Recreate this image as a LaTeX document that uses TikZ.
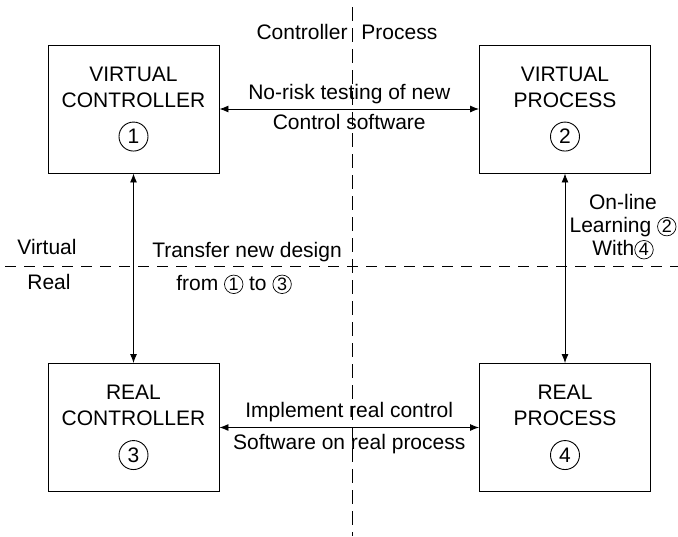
\documentclass[tikz,border=0pt]{standalone}
\usepackage{fontspec}
\setmainfont{Liberation Sans}
\usetikzlibrary{arrows.meta,positioning}
\newcommand{\cnum}[1]{\tikz[baseline=(cn.base)]\node[draw, circle, inner sep=0pt,
  minimum size=18.5pt, line width=0.7pt, font=\fontsize{18}{18}\selectfont] (cn) {#1};}

\begin{document}
\begin{tikzpicture}[
      x=1pt, y=-1pt,
      font=\fontsize{21}{26}\selectfont,
      line width=0.9pt,
      box/.style={draw, minimum width=171pt, minimum height=128pt, inner sep=0pt},
      title/.style={align=center, inner sep=0pt},
      num/.style={draw, circle, minimum size=29pt, inner sep=0pt},
      arrow/.style={{Latex[length=9pt,width=7pt]}-{Latex[length=9pt,width=7pt]}},
      lab/.style={align=center, inner sep=0pt},
      divider/.style={line width=0.8pt, dash pattern=on 11pt off 8pt}
    ]
    \useasboundingbox (0,0) rectangle (678,536);
    % boundaries
    \coordinate (vtop) at (352,7);
    \coordinate (vbot) at (352,536);
    \coordinate (hleft) at (5,266);
    \coordinate (hright) at (678,266);
    \draw[divider, dash pattern=on 14pt off 7pt] (vtop) -- (vbot);
    \draw[divider] (hleft) -- (hright);
    % blocks
    \node[box] (vc) at (133.5,109) {};
    \node[box] (vp) at (565,109) {};
    \node[box] (rc) at (133.5,427.5) {};
    \node[box] (rp) at (565,427.5) {};
    \node[title] (vctxt) at ([yshift=-42.5pt]vc.north) {VIRTUAL\\CONTROLLER};
    \node[title] (vptxt) at ([yshift=-42.5pt]vp.north) {VIRTUAL\\PROCESS};
    \node[title] (rctxt) at ([yshift=-42.5pt]rc.north) {REAL\\CONTROLLER};
    \node[title] (rptxt) at ([yshift=-42.5pt]rp.north) {REAL\\PROCESS};
    \node[num] (vcnum) at ([yshift=-92pt]vc.north) {1};
    \node[num] (vpnum) at ([yshift=-92pt]vp.north) {2};
    \node[num] (rcnum) at ([yshift=-92pt]rc.north) {3};
    \node[num] (rpnum) at ([yshift=-92pt]rp.north) {4};
    % links
    \draw[arrow] (vc) -- (vp)
      node[lab, midway, above=5pt] (test) {No-risk testing of new}
      node[lab, midway, below=5pt] (soft) {Control software};
    \draw[arrow] (rc) -- (rp)
      node[lab, midway, above=5pt] (impl) {Implement real control}
      node[lab, midway, below=6pt] (real) {Software on real process};
    \draw[arrow] (vc) -- (rc);
    \draw[arrow] (vp) -- (rp);
    % side texts
    \node[lab, anchor=base east] (ctrl) at (348,39.5) {Controller};
    \node[lab, anchor=base west] (proc) at (361,39.5) {Process};
    \node[lab, anchor=base] (virt) at (47,254.5) {Virtual};
    \node[lab, anchor=base] (rl) at (49,289.5) {Real};
    \node[lab, anchor=base] (trans) at (247,257.5) {Transfer new design};
    \node[lab, anchor=base] (from) at (234,290.5) {from \cnum{1} to \cnum{3}};
    \node[lab, font=\fontsize{21}{23}\selectfont] (learn) at (623,227)
      {On-line\\Learning \cnum{2}\\With\cnum{4}};
  \end{tikzpicture}
\end{document}
